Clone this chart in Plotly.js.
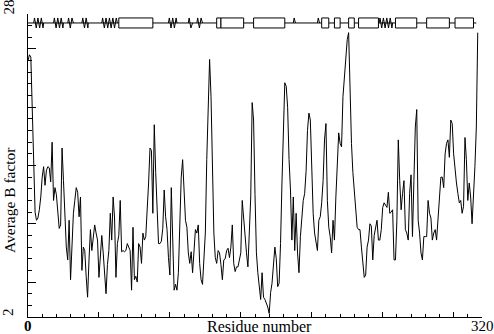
<!DOCTYPE html>
<html><head><meta charset="utf-8">
<script src="https://cdn.plot.ly/plotly-3.0.1.min.js"></script>
<style>html,body{margin:0;padding:0;background:#fff}#chart{width:494px;height:334px}</style>
</head><body><div id="chart"></div>
<script>
// Average B factor per residue (residue number = index)
const bfactor = [
24.0,24.5,24.3,19.2,13.5,11.0,10.3,10.5,11.2,12.3,
14.0,14.9,13.3,14.6,14.9,14.8,13.6,17.0,12.0,13.1,
12.5,10.9,9.6,9.9,16.5,13.7,10.5,8.0,6.9,10.3,
5.2,8.6,10.9,12.0,13.1,12.7,10.6,12.3,6.0,8.0,
7.7,5.5,3.7,6.9,9.5,7.7,8.6,9.9,9.2,8.6,
5.4,7.3,9.0,7.5,6.0,4.0,6.5,7.7,10.9,8.6,
12.3,10.5,5.4,8.3,9.0,12.0,7.6,7.7,7.6,7.7,
8.3,8.0,7.7,4.3,9.7,5.2,5.5,5.0,8.3,8.0,
6.6,9.2,8.6,8.9,10.9,13.5,16.5,16.3,10.9,18.5,
14.4,10.6,8.3,8.3,8.5,9.6,12.9,10.6,9.5,7.1,
5.6,13.1,9.2,4.3,4.8,4.3,5.8,9.9,14.0,15.5,
13.1,10.3,9.7,7.5,6.6,7.6,5.8,7.5,9.5,9.2,
9.9,6.6,5.2,4.8,6.9,9.2,15.5,20.4,24.1,20.9,
15.5,9.2,7.1,6.6,7.7,7.5,6.5,5.2,6.9,7.0,
7.7,7.9,7.1,8.0,9.9,6.6,5.9,6.3,6.3,7.0,
7.5,12.0,10.3,8.6,7.5,6.3,10.0,12.3,20.4,18.9,
12.5,7.5,5.8,4.5,3.5,5.8,3.7,3.5,3.2,2.85,
2.3,4.1,4.9,6.6,8.0,7.0,4.6,4.9,8.3,13.5,
17.4,22.1,21.8,20.0,15.5,12.9,8.6,12.3,7.7,10.9,
7.5,5.8,8.9,10.9,12.0,12.6,14.5,18.0,19.5,18.9,
14.0,10.9,9.2,8.5,7.7,10.3,10.6,11.8,13.7,17.2,
18.6,12.0,9.7,8.9,7.5,10.3,8.6,12.3,15.5,17.8,
16.9,16.6,20.9,22.3,24.0,25.8,26.4,20.6,16.9,14.4,
12.5,11.4,9.7,9.5,9.5,8.0,6.3,5.4,5.6,8.0,
8.6,10.0,9.8,6.9,9.0,9.7,10.3,8.6,8.6,9.5,
11.4,11.8,11.6,11.4,12.7,10.9,11.0,11.2,6.9,6.9,
10.3,17.2,13.7,11.2,12.6,13.7,9.5,9.2,8.6,12.6,
14.2,8.9,13.7,18.3,19.8,10.3,9.2,7.5,6.9,8.9,
8.9,8.9,12.0,10.9,10.5,8.6,9.2,9.5,8.6,10.3,
12.5,14.0,14.0,13.1,16.0,16.9,17.2,15.7,18.9,18.6,
16.0,14.4,13.5,12.6,11.8,12.0,10.9,11.5,17.4,15.5,
12.0,13.5,12.3,10.0,12.0,14.9,18.3,26.4
];
const residues = bfactor.map((_, i) => i);

// Secondary structure (residue ranges)
const strands = [[64,88],[133,136],[136,152],[159,181],[207,212],[216,220],[226,230],[233,247],[259,274],[281,297],[301,314]];
const helices = [[4,11],[18,25],[28,32],[38,42.5],[52,63],[99,105],[113,116],[119,123],[187,188.5],[204,205.5],[247.5,257]];
const ssStart = 0, ssEnd = 316;

const xLabels = [[0,'<b>0</b>'],[320,'320']];
const yLabels = [[2,'2'],[28,'28']];
const xTitle = 'Residue number';
const yTitle = 'Average B factor';

// strip geometry (in y data units)
const ssTop = 27.66, ssMid = 27.23, ssBot = 26.8;

const zx = [], zy = [];
helices.forEach(([a, b]) => {
  zx.push(a); zy.push(ssMid);
  let up = true;
  for (let x = a + 0.6; x < b; x += 1.2) { zx.push(x); zy.push(up ? ssTop : ssBot); up = !up; }
  zx.push(b); zy.push(ssMid);
  zx.push(null); zy.push(null);
});

const shapes = [{type:'line', xref:'x', yref:'y', x0:ssStart, x1:ssEnd, y0:ssMid, y1:ssMid, line:{color:'black', width:1}}];
strands.forEach(([a, b]) => shapes.push({type:'rect', xref:'x', yref:'y', x0:a, x1:b, y0:ssBot, y1:ssTop, line:{color:'black', width:1}, fillcolor:'white'}));

const font = {family:'Liberation Serif, Times New Roman, serif', size:16, color:'black'};
const yFont = {family:'Liberation Serif, Times New Roman, serif', size:15.5, color:'black'};
const numFont = {family:'Liberation Serif, Times New Roman, serif', size:15, color:'black'};

const annotations = [];
xLabels.forEach(([v, t]) => annotations.push({xref:'x', yref:'paper', x:v, y:0, text:t, showarrow:false, xanchor:'center', yanchor:'middle', yshift:-9, font:numFont}));
yLabels.forEach(([v, t]) => annotations.push({xref:'paper', yref:'y', x:0, y:v, text:t, showarrow:false, textangle:-90, xanchor:'center', yanchor:'middle', xshift:-20, yshift:(v===2?5:6.5), borderpad:0, font:numFont}));
annotations.push({xref:'paper', yref:'paper', x:0.511, y:0, text:xTitle, showarrow:false, xanchor:'center', yanchor:'middle', yshift:-9, font:font});
annotations.push({xref:'paper', yref:'paper', x:0, y:0.386, text:yTitle, showarrow:false, textangle:-90, xanchor:'center', yanchor:'middle', xshift:-19, borderpad:0, font:yFont});

const traces = [
  {x:residues, y:bfactor, type:'scatter', mode:'lines', line:{color:'black', width:1}, hoverinfo:'skip'},
  {x:zx, y:zy, type:'scatter', mode:'lines', line:{color:'black', width:1}, hoverinfo:'skip', connectgaps:false}
];

const layout = {
  width:494, height:334,
  margin:{l:28, r:12, t:14, b:17, pad:0},
  paper_bgcolor:'white', plot_bgcolor:'white',
  showlegend:false,
  xaxis:{range:[0,320], showgrid:false, zeroline:false, showline:true, linecolor:'black', linewidth:1,
    tickmode:'array', tickvals:[50,100,150,200,250,300], ticks:'inside', ticklen:5, tickcolor:'black', tickwidth:1, showticklabels:false,
    minor:{dtick:10, tick0:0, ticks:'inside', ticklen:3, tickcolor:'black', tickwidth:1, showgrid:false}},
  yaxis:{range:[2,28], showgrid:false, zeroline:false, showline:true, linecolor:'black', linewidth:1,
    tickmode:'array', tickvals:[5,10,15,20,25], ticks:'inside', ticklen:8, tickcolor:'black', tickwidth:1, showticklabels:false,
    minor:{dtick:1, tick0:2, ticks:'inside', ticklen:4, tickcolor:'black', tickwidth:1, showgrid:false}},
  shapes:shapes,
  annotations:annotations
};

Plotly.newPlot('chart', traces, layout, {staticPlot:true, displayModeBar:false});
</script></body></html>
